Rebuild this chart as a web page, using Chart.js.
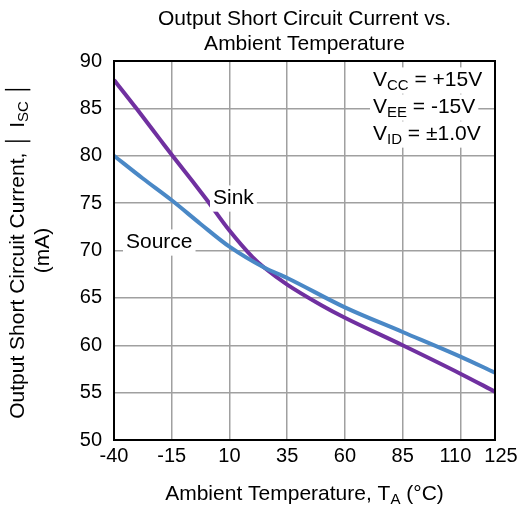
<!DOCTYPE html>
<html>
<head>
<meta charset="utf-8">
<script src="https://cdn.jsdelivr.net/npm/chart.js@4"></script>
<style>
  html, body { margin: 0; padding: 0; background: #fff; }
  #wrap { width: 522px; height: 511px; }
</style>
</head>
<body>
<div id="wrap"><canvas id="chartIsc" width="522" height="511"></canvas></div>
<script>
// Output short circuit current vs ambient temperature
const xTicks = [-40, -15, 10, 35, 60, 85, 110, 125];
const yTicks = [50, 55, 60, 65, 70, 75, 80, 85, 90];

const sinkTemp = [-40, -30, -20, -15, -5, 0, 10, 20, 25, 35, 50, 60, 85, 110, 125];
const sinkIsc  = [88, 84.9, 81.7, 80.1, 77.0, 75.4, 72.1, 69.3, 68.2, 66.4, 64.2, 62.9, 60.0, 57.0, 55.1];

const sourceTemp = [-40, -27.5, -15, -2.5, 10, 25, 35, 60, 85, 110, 125];
const sourceIsc  = [80, 77.6, 75.3, 72.8, 70.4, 68.2, 67.1, 64.0, 61.4, 58.8, 57.1];

const FONT = '"Liberation Sans", Arial, sans-serif';

function pts(xs, ys) {
  return xs.map((x, i) => ({ x: x, y: ys[i] }));
}

// text with subscript runs: parts = [[text, isSub], ...]
function drawRich(ctx, parts, x, y, size, align, bg) {
  const subSize = Math.round(size * 0.72);
  let w = 0;
  parts.forEach(p => {
    ctx.font = (p[1] ? subSize : size) + 'px ' + FONT;
    w += ctx.measureText(p[0]).width;
  });
  let cx = align === 'center' ? x - w / 2 : (align === 'right' ? x - w : x);
  if (bg) {
    ctx.fillStyle = '#fff';
    ctx.fillRect(cx - 3, y - size * 0.6, w + 6, size * 1.25);
  }
  ctx.fillStyle = '#000';
  ctx.textBaseline = 'middle';
  ctx.textAlign = 'left';
  parts.forEach(p => {
    ctx.font = (p[1] ? subSize : size) + 'px ' + FONT;
    ctx.fillText(p[0], cx, p[1] ? y + size * 0.26 : y);
    cx += ctx.measureText(p[0]).width;
  });
}

const textPlugin = {
  id: 'textPlugin',
  afterDatasetsDraw(chart) {
    const ctx = chart.ctx;
    const a = chart.chartArea;
    const xs = chart.scales.x;
    ctx.save();
    // plot frame
    ctx.strokeStyle = '#000';
    ctx.lineWidth = 2;
    ctx.strokeRect(a.left, a.top, a.right - a.left, a.bottom - a.top);

    // x tick labels (last two nudged apart like the original)
    xTicks.forEach(v => {
      let px = xs.getPixelForValue(v);
      if (v === 110) px -= 5;
      if (v === 125) px += 6;
      drawRich(ctx, [[String(v), 0]], px, a.bottom + 16, 20, 'center', false);
    });

    // annotations with white backing
    drawRich(ctx, [['V', 0], ['CC', 1], [' = +15V', 0]], 373, 80, 21, 'left', true);
    drawRich(ctx, [['V', 0], ['EE', 1], [' = -15V', 0]], 373, 107, 21, 'left', true);
    drawRich(ctx, [['V', 0], ['ID', 1], [' = \u00b11.0V', 0]], 373, 134, 21, 'left', true);
    drawRich(ctx, [['Sink', 0]], 213, 198, 21, 'left', true);
    drawRich(ctx, [['Source', 0]], 126, 242, 21, 'left', true);

    // titles
    const cx = (a.left + a.right) / 2;
    drawRich(ctx, [['Output Short Circuit Current vs.', 0]], cx, 19, 21, 'center', false);
    drawRich(ctx, [['Ambient Temperature', 0]], cx, 44, 21, 'center', false);
    drawRich(ctx, [['Ambient Temperature, T', 0], ['A', 1], [' (\u00b0C)', 0]], cx, 494, 21, 'center', false);

    ctx.translate(18, (a.top + a.bottom) / 2);
    ctx.rotate(-Math.PI / 2);
    drawRich(ctx, [['Output Short Circuit Current, \u2502 I', 0], ['SC', 1], [' \u2502', 0]], 0, 0, 21, 'center', false);
    drawRich(ctx, [['(mA)', 0]], 0, 25, 21, 'center', false);
    ctx.restore();
  }
};

new Chart(document.getElementById('chartIsc'), {
  type: 'line',
  data: {
    datasets: [{
      label: 'Source',
      data: pts(sourceTemp, sourceIsc),
      borderColor: '#4a88c6',
      borderWidth: 4,
      pointRadius: 0,
      cubicInterpolationMode: 'monotone',
      fill: false
    }, {
      label: 'Sink',
      data: pts(sinkTemp, sinkIsc),
      borderColor: '#7030a0',
      borderWidth: 4,
      pointRadius: 0,
      cubicInterpolationMode: 'monotone',
      fill: false
    }]
  },
  options: {
    responsive: false,
    animation: false,
    layout: { padding: { top: 61, right: 27, left: 0, bottom: 0 } },
    plugins: { legend: { display: false }, tooltip: { enabled: false } },
    scales: {
      x: {
        type: 'linear',
        min: -40,
        max: 125,
        afterBuildTicks: s => { s.ticks = xTicks.map(v => ({ value: v })); },
        afterFit: s => { s.height = 71; },
        grid: { color: '#a0a0a0', lineWidth: 1.5, drawTicks: false },
        border: { color: '#000', width: 2 },
        ticks: { display: false }
      },
      y: {
        min: 50,
        max: 90,
        afterBuildTicks: s => { s.ticks = yTicks.map(v => ({ value: v })); },
        afterFit: s => { s.width = 114; },
        grid: { color: '#a0a0a0', lineWidth: 1.5, drawTicks: false },
        border: { color: '#000', width: 2 },
        ticks: { color: '#000', font: { family: FONT, size: 20 }, padding: 12 }
      }
    }
  },
  plugins: [textPlugin]
});
</script>
</body>
</html>
